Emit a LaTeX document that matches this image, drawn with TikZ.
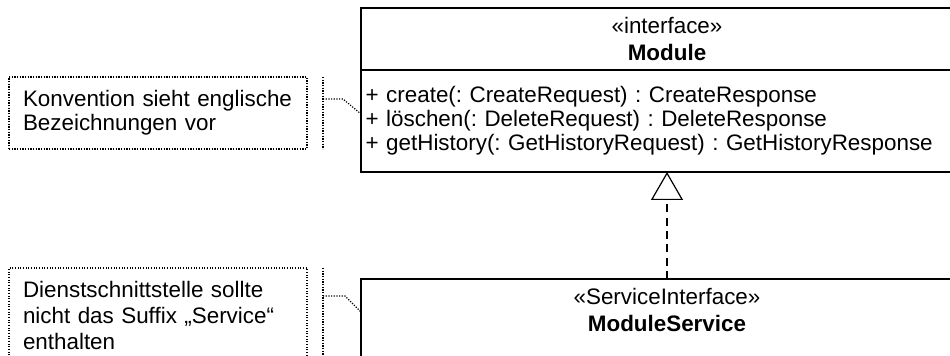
\documentclass[tikz,border=0pt]{standalone}
\usepackage{fontspec}
\setmainfont{Liberation Sans}
\frenchspacing
\usetikzlibrary{calc,positioning,arrows.meta}

\begin{document}
\begin{tikzpicture}[
    x=0.75pt, y=-0.75pt,
    every node/.style={font=\fontsize{16.8}{18}\selectfont, outer sep=0pt},
    cls/.style={rectangle, draw=black, line width=1.2pt,
        minimum width=459pt, inner sep=0pt},
    hd/.style={cls, minimum height=46.5pt, align=center,
        font=\fontsize{16.8}{20.25}\selectfont},
    ops/.style={cls, minimum height=76.5pt, text width=452pt,
        inner xsep=3.5pt, align=left},
    nt/.style={rectangle, draw=black, line width=0.9pt,
        dash pattern=on 0.9pt off 1.1pt, text width=202.5pt,
        inner xsep=10.5pt, inner ysep=0pt, align=left},
    nl/.style={draw=black, line width=0.9pt, dash pattern=on 0.9pt off 1.1pt},
    re/.style={draw=black, line width=0.9pt, dash pattern=on 6pt off 4pt,
        -{Triangle[open, length=21pt, width=24pt, line width=0.9pt]}},
]
    \clip (0,0) rectangle (950,356);

    % Interface
    \node[hd, anchor=north west] (modhead) at (361,8)
        {«interface»\\\textbf{Module}};
    \node[ops, anchor=north west] (modops) at (modhead.south west)
        {+ create(: CreateRequest) : CreateResponse\\
         + löschen(: DeleteRequest) : DeleteResponse\\
         + getHistory(: GetHistoryRequest) : GetHistoryResponse};

    % Service
    \node[cls, anchor=north west, minimum height=75pt] (svc) at (361,279) {};
    \node[hd, draw=none, anchor=north] (svchead) at (svc.north)
        {«ServiceInterface»\\\textbf{ModuleService}};

    % Notes
    \node[nt, anchor=north west, minimum height=54pt] (note1) at (9,77)
        {Konvention sieht englische\\Bezeichnungen vor};
    \node[nt, anchor=north west, inner ysep=10pt,
        font=\fontsize{16.8}{19.5}\selectfont] (note2) at (9,268)
        {Dienstschnittstelle sollte\\nicht das Suffix „Service“\\enthalten\\\rule{0pt}{30pt}};

    % Note links
    \coordinate (b1top) at ($(note1.north east)+(16,0)$);
    \coordinate (b1bot) at ($(note1.south east)+(16,0)$);
    \coordinate (b1hook) at ($(b1top)+(0,22)$);
    \coordinate (b1end) at ($(modops.north west)+(0,44)$);
    \draw[nl] (b1top) -- (b1bot);
    \draw[nl] (b1hook) -- ++(20,0) -- (b1end);

    \coordinate (b2top) at ($(note2.north east)+(16,0)$);
    \coordinate (b2bot) at ($(note2.south east)+(16,0)$);
    \coordinate (b2hook) at ($(b2top)+(0,28)$);
    \coordinate (b2end) at ($(svc.north west)+(0,33)$);
    \draw[nl] (b2top) -- (b2bot);
    \draw[nl] (b2hook) -- ++(22,0) -- (b2end);

    % Realization
    \draw[re] (svc.north) -- (modops.south);
\end{tikzpicture}
\end{document}
